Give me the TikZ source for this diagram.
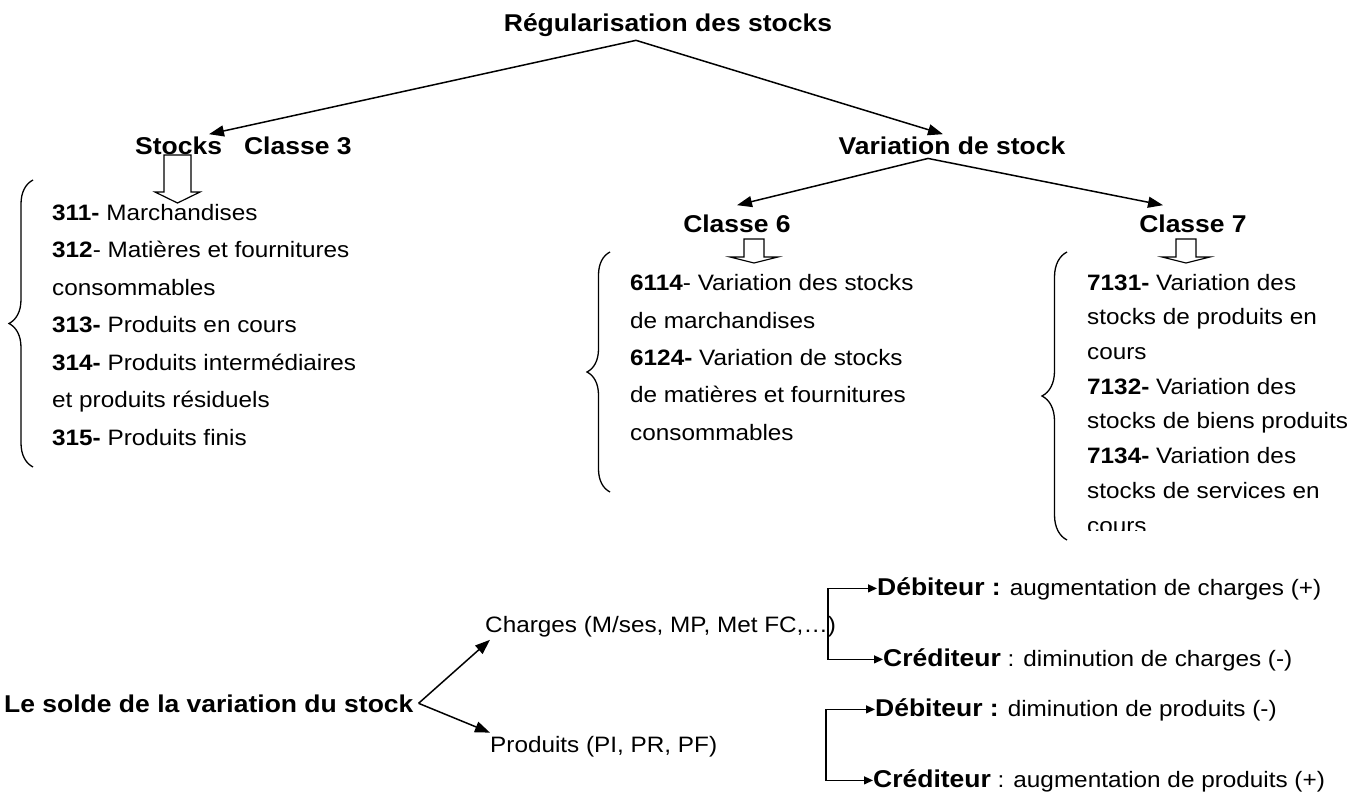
\documentclass[tikz,border=0pt]{standalone}
\usepackage{fontspec}
\setmainfont{Liberation Sans}[FakeStretch=1.09]
\usetikzlibrary{arrows.meta,decorations.pathreplacing}

\begin{document}
\begin{tikzpicture}[
    x=1pt, y=-1pt,
    head/.style={font=\fontsize{24.3}{28}\selectfont\bfseries, inner xsep=0pt, inner ysep=3pt},
    body/.style={font=\fontsize{22.3}{26}\selectfont, inner xsep=0pt, inner ysep=3pt},
    list/.style={font=\fontsize{22.3}{#1}\selectfont, align=left, inner sep=0pt, anchor=base west},
    main arrow/.style={line width=1.5pt, -{Triangle[length=15pt,width=11pt]}},
    small arrow/.style={line width=1.3pt, -{Triangle[length=9pt,width=8pt]}},
    hollow/.style={line width=1.2pt, line join=miter},
    accolade/.style={line width=1.3pt, decorate, decoration={brace, amplitude=#1}}
    ]
    \useasboundingbox (0,0) rectangle (1360,797);

    % titles
    \node[head, anchor=base] (title) at (668,32) {Régularisation des stocks};
    \node[head, anchor=base west] (stk) at (135,155) {Stocks~~~Classe 3};
    \node[head, anchor=base] (var) at (952,155) {Variation de stock};
    \node[head, anchor=base] (c6) at (737,232) {Classe 6};
    \node[head, anchor=base] (c7) at (1193,232) {Classe 7};

    \coordinate (tapex) at ([xshift=-32]title.south);
    \coordinate (vapex) at ([xshift=-24]var.south);
    \draw[main arrow] (tapex) -- ([xshift=74]stk.north west);
    \draw[main arrow] (tapex) -- ([xshift=-9]var.north);
    \draw[main arrow] (vapex) -- ([yshift=6]c6.north);
    \draw[main arrow] (vapex) -- ([xshift=-30,yshift=6]c7.north);

    % hollow arrows
    \draw[hollow] (164,155) -- (164,192) -- (155,192) -- (177.5,203) -- (200,192) -- (191,192) -- (191,155) -- cycle;
    \draw[hollow] (744,239) -- (744,257) -- (730,257) -- (754,263) -- (778,257) -- (764,257) -- (764,239) -- cycle;
    \draw[hollow] (1176,239) -- (1176,257) -- (1162,257) -- (1186,263) -- (1210,257) -- (1196,257) -- (1196,239) -- cycle;

    % accounts (base = last line)
    \draw[accolade=24pt] (33,467) -- (33,180);
    \node[list=37.5] (l3) at (52,445) {\textbf{311-} Marchandises\\
        \textbf{312}- Matières et fournitures\\
        consommables\\
        \textbf{313-} Produits en cours\\
        \textbf{314-} Produits intermédiaires\\
        et produits résiduels\\
        \textbf{315-} Produits finis};

    \draw[accolade=23pt] (610,492) -- (610,252);
    \node[list=37.3] (l6) at (630,440) {\textbf{6114}- Variation des stocks\\
        de marchandises\\
        \textbf{6124-} Variation de stocks\\
        de matières et fournitures\\
        consommables};

    \draw[accolade=25pt] (1067,540) -- (1067,252);
    \begin{scope}
        \clip (1070,240) rectangle (1360,530);
        \node[list=34.7] (l7) at (1087,533) {\textbf{7131-} Variation des\\
            stocks de produits en\\
            cours\\
            \textbf{7132-} Variation des\\
            stocks de biens produits\\
            \textbf{7134-} Variation des\\
            stocks de services en\\
            cours};
    \end{scope}

    % solde
    \node[head, anchor=base west] (solde) at (4,712) {Le solde de la variation du stock};
    \node[body, anchor=base west] (chg) at (485,632) {Charges (M/ses, MP, Met FC,…)};
    \node[body, anchor=base west] (prd) at (490,752) {Produits (PI, PR, PF)};

    \node[body, anchor=base west] (deb1) at (877,595) {{\fontsize{24.3}{28}\selectfont\bfseries Débiteur :} augmentation de charges (+)};
    \node[body, anchor=base west] (cre1) at (883,666) {{\fontsize{24.3}{28}\selectfont\bfseries Créditeur} : diminution de charges (-)};
    \node[body, anchor=base west] (deb2) at (875,716) {{\fontsize{24.3}{28}\selectfont\bfseries Débiteur :} diminution de produits (-)};
    \node[body, anchor=base west] (cre2) at (873,787) {{\fontsize{24.3}{28}\selectfont\bfseries Créditeur} : augmentation de produits (+)};

    \coordinate (sapex) at ([xshift=5]solde.east);
    \draw[main arrow] (sapex) -- ([xshift=5]chg.south west);
    \draw[main arrow] (sapex) -- (prd.north west);

    \coordinate (cbr) at ([xshift=-8]chg.east);
    \coordinate (pbr) at (826,743);
    \draw[small arrow] (cbr) |- (deb1.west);
    \draw[small arrow] (cbr) |- (cre1.west);
    \draw[small arrow] (pbr) |- (deb2.west);
    \draw[small arrow] (pbr) |- (cre2.west);

\end{tikzpicture}
\end{document}
